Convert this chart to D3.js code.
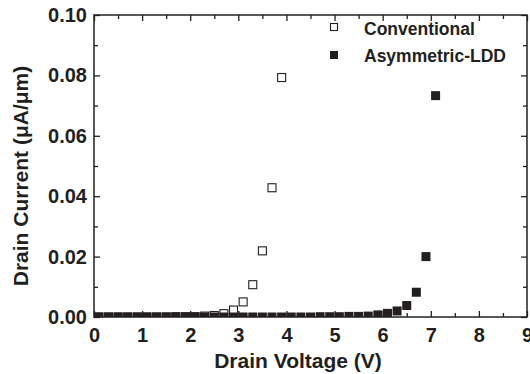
<!DOCTYPE html>
<html>
<head>
<meta charset="utf-8">
<script src="https://cdn.jsdelivr.net/npm/d3@7"></script>
<style>
  body { margin: 0; background: #fff; }
  text { font-family: "Liberation Sans", Arial, Helvetica, sans-serif; font-weight: bold; fill: #231f20; }
</style>
</head>
<body>
<div id="chart"></div>
<script>
// voltages (V), both series sampled at odd tenths
const convVoltage = [0.1, 0.3, 0.5, 0.7, 0.9, 1.1, 1.3, 1.5, 1.7, 1.9,
                     2.1, 2.3, 2.5, 2.7, 2.9, 3.1, 3.3, 3.5, 3.7, 3.9];
const convCurrent = [0, 0, 0, 0, 0, 0, 0, 0, 0.0001, 0.0001,
                     0.0001, 0.0003, 0.0005, 0.0011, 0.0023, 0.0050, 0.0107, 0.0219, 0.0428, 0.0793];

const asymVoltage = [0.1, 0.3, 0.5, 0.7, 0.9, 1.1, 1.3, 1.5, 1.7, 1.9,
                     2.1, 2.3, 2.5, 2.7, 2.9, 3.1, 3.3, 3.5, 3.7, 3.9,
                     4.1, 4.3, 4.5, 4.7, 4.9, 5.1, 5.3, 5.5, 5.7, 5.9,
                     6.1, 6.3, 6.5, 6.7, 6.9, 7.1];
const asymCurrent = [0, 0, 0, 0, 0, 0, 0, 0, 0, 0,
                     0, 0, 0, 0, 0, 0, 0, 0, 0, 0,
                     0, 0, 0, 0.0001, 0.0001, 0.0001, 0.0002, 0.0002, 0.0003, 0.0007,
                     0.0012, 0.0020, 0.0038, 0.0082, 0.0200, 0.0733];

const xTicks = [0, 1, 2, 3, 4, 5, 6, 7, 8, 9];
const xMinor = [0.5, 1.5, 2.5, 3.5, 4.5, 5.5, 6.5, 7.5, 8.5];
const yTicks = [0, 0.02, 0.04, 0.06, 0.08, 0.10];
const yMinor = [0.01, 0.03, 0.05, 0.07, 0.09];

const legendNames = ["Conventional", "Asymmetric-LDD"];

const width = 530, height = 374;
const plotL = 94, plotR = 527, plotT = 15, plotB = 317;
const ink = "#231f20";

const svg = d3.select("#chart").append("svg")
    .attr("width", width)
    .attr("height", height);

const x = d3.scaleLinear().domain([0, 9]).range([plotL, plotR]);
const y = d3.scaleLinear().domain([0, 0.1]).range([plotB, plotT]);

svg.append("clipPath").attr("id", "plotClip")
  .append("rect")
    .attr("x", plotL).attr("y", plotT)
    .attr("width", plotR - plotL).attr("height", plotB - plotT);

// axes: ticks point inward on all four sides
function styleAxis(g) {
    g.select(".domain").remove();
    g.selectAll(".tick line").attr("stroke", ink).attr("stroke-width", 1.3);
    g.selectAll(".tick text").style("font-size", "20px").attr("fill", ink);
}

svg.append("g")
    .attr("transform", `translate(0,${plotB})`)
    .call(d3.axisBottom(x).tickValues(xTicks).tickFormat(d3.format("d"))
        .tickSizeInner(-6).tickSizeOuter(0).tickPadding(11))
    .call(styleAxis);
svg.append("g")
    .attr("transform", `translate(0,${plotB})`)
    .call(d3.axisBottom(x).tickValues(xMinor).tickFormat("").tickSizeInner(-4).tickSizeOuter(0))
    .call(styleAxis);

svg.append("g")
    .attr("transform", `translate(0,${plotT})`)
    .call(d3.axisTop(x).tickValues(xTicks).tickFormat("").tickSizeInner(-6).tickSizeOuter(0))
    .call(styleAxis);
svg.append("g")
    .attr("transform", `translate(0,${plotT})`)
    .call(d3.axisTop(x).tickValues(xMinor).tickFormat("").tickSizeInner(-4).tickSizeOuter(0))
    .call(styleAxis);

svg.append("g")
    .attr("transform", `translate(${plotL},0)`)
    .call(d3.axisLeft(y).tickValues(yTicks).tickFormat(d3.format(".2f"))
        .tickSizeInner(-6).tickSizeOuter(0).tickPadding(7))
    .call(styleAxis);
svg.append("g")
    .attr("transform", `translate(${plotL},0)`)
    .call(d3.axisLeft(y).tickValues(yMinor).tickFormat("").tickSizeInner(-4).tickSizeOuter(0))
    .call(styleAxis);

svg.append("g")
    .attr("transform", `translate(${plotR},0)`)
    .call(d3.axisRight(y).tickValues(yTicks).tickFormat("").tickSizeInner(-6).tickSizeOuter(0))
    .call(styleAxis);
svg.append("g")
    .attr("transform", `translate(${plotR},0)`)
    .call(d3.axisRight(y).tickValues(yMinor).tickFormat("").tickSizeInner(-4).tickSizeOuter(0))
    .call(styleAxis);

// plot frame
svg.append("rect")
    .attr("x", plotL).attr("y", plotT)
    .attr("width", plotR - plotL).attr("height", plotB - plotT)
    .attr("fill", "none")
    .attr("stroke", ink)
    .attr("stroke-width", 1.5);

// data markers
const ms = 9;
const marks = svg.append("g").attr("clip-path", "url(#plotClip)");

marks.selectAll("rect.conv")
    .data(convVoltage.map((v, i) => [v, convCurrent[i]]))
    .enter().append("rect")
    .attr("class", "conv")
    .attr("x", d => x(d[0]) - ms / 2 + 0.5)
    .attr("y", d => y(d[1]) - ms / 2 + 0.5)
    .attr("width", ms - 1).attr("height", ms - 1)
    .attr("fill", "#fff")
    .attr("stroke", ink)
    .attr("stroke-width", 1.1);

marks.selectAll("rect.asym")
    .data(asymVoltage.map((v, i) => [v, asymCurrent[i]]))
    .enter().append("rect")
    .attr("class", "asym")
    .attr("x", d => x(d[0]) - ms / 2)
    .attr("y", d => y(d[1]) - ms / 2)
    .attr("width", ms).attr("height", ms)
    .attr("fill", ink);

// legend
const lg = svg.append("g");
lg.append("rect")
    .attr("x", 330.5).attr("y", 23.5).attr("width", 7).attr("height", 7)
    .attr("fill", "#fff").attr("stroke", ink).attr("stroke-width", 1.1);
lg.append("rect")
    .attr("x", 330).attr("y", 51).attr("width", 8).attr("height", 8)
    .attr("fill", ink);
lg.selectAll("text")
    .data(legendNames)
    .enter().append("text")
    .attr("x", 364)
    .attr("y", (d, i) => 34.5 + i * 27)
    .style("font-size", "17.5px")
    .text(d => d);

// axis titles
svg.append("text")
    .attr("x", 298).attr("y", 368)
    .attr("text-anchor", "middle")
    .style("font-size", "21px")
    .text("Drain Voltage (V)");

svg.append("text")
    .attr("transform", "translate(28,176) rotate(-90)")
    .attr("text-anchor", "middle")
    .style("font-size", "21px")
    .text("Drain Current (\u03bcA/\u03bcm)");
</script>
</body>
</html>
